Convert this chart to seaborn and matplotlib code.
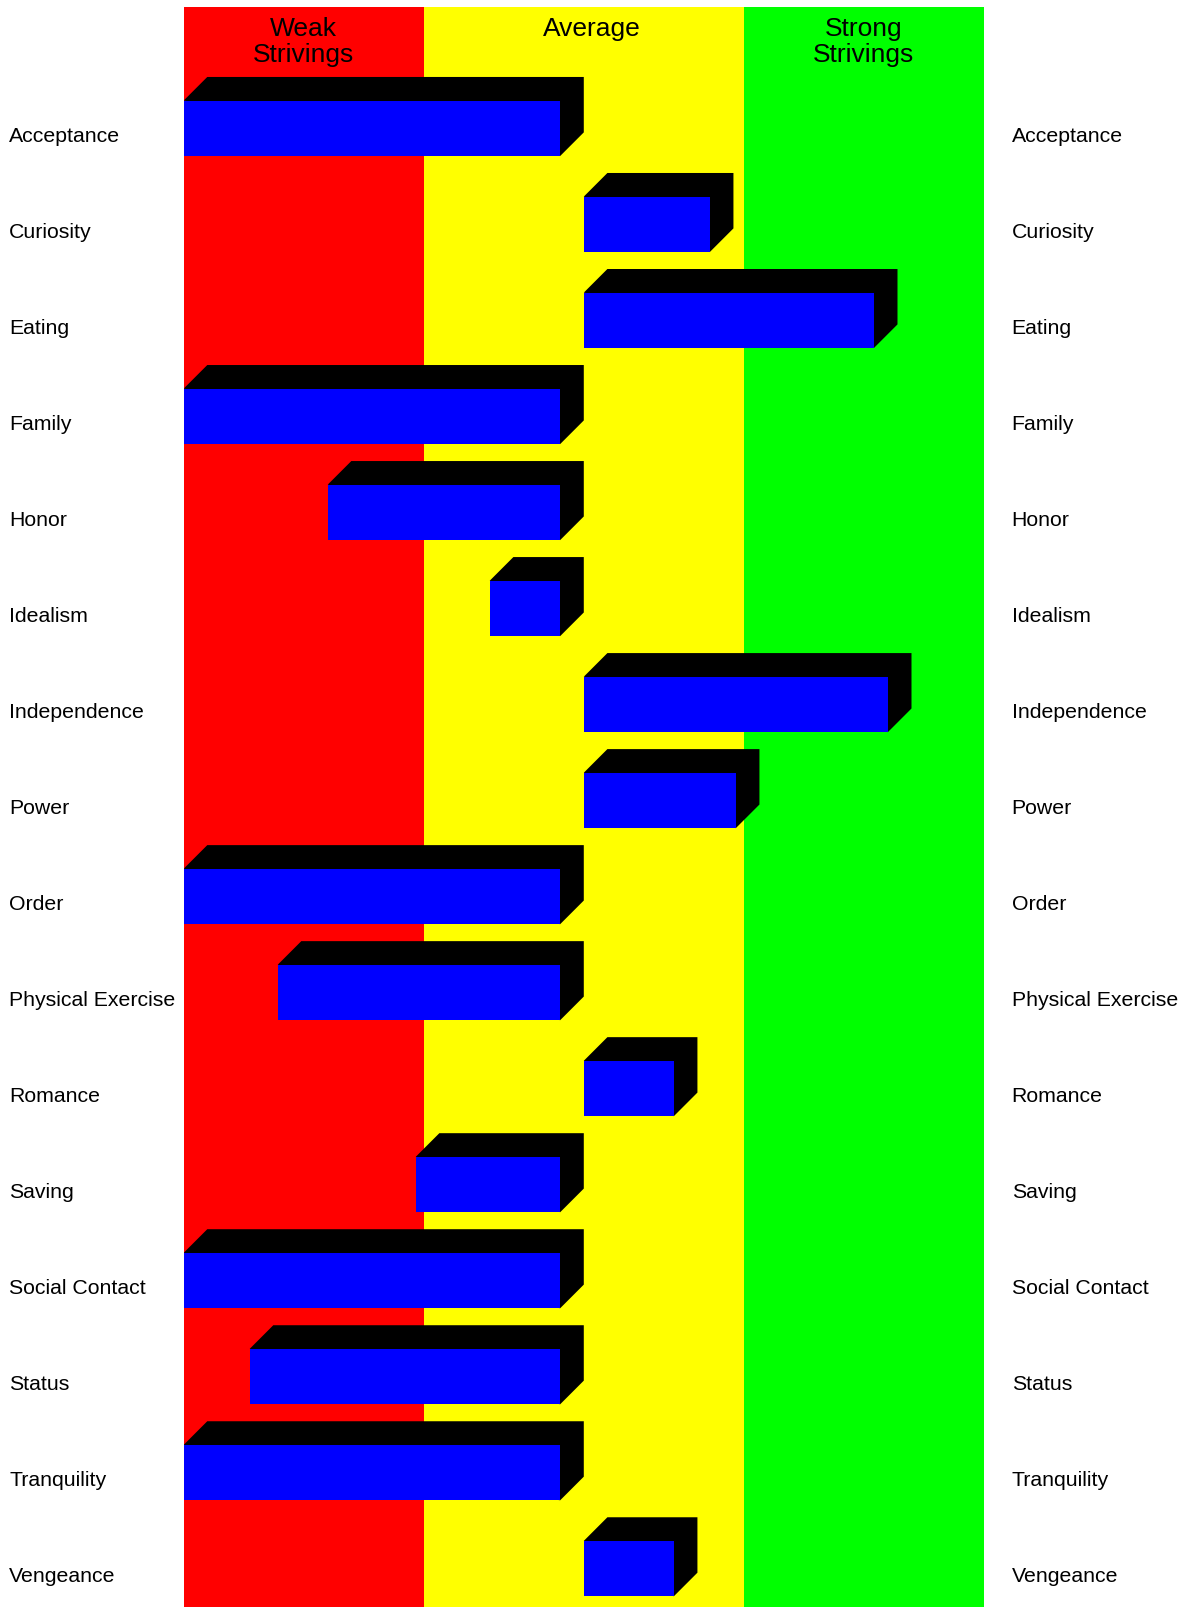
import numpy as np
import pandas as pd
import seaborn as sns
import matplotlib.pyplot as plt
from matplotlib.transforms import blended_transform_factory

motives = ["Acceptance", "Curiosity", "Eating", "Family", "Honor", "Idealism",
           "Independence", "Power", "Order", "Physical Exercise", "Romance",
           "Saving", "Social Contact", "Status", "Tranquility", "Vengeance"]
scores = [-2.0, 0.63, 1.45, -2.0, -1.28, -0.47, 1.52, 0.76,
          -2.0, -1.53, 0.45, -0.84, -2.0, -1.67, -2.0, 0.45]

zones = ["Weak\nStrivings", "Average", "Strong\nStrivings"]
zone_edges = [-2.0, -0.8, 0.8, 2.0]
zone_label_x = [-1.4, 0.04, 1.4]
zone_colors = ["#ff0000", "#ffff00", "#00ff00"]

depth_x = 0.118   # 3d extrusion, data units
depth_y = 0.246   # 3d extrusion, rows
bar_h = 0.577

df = pd.DataFrame({"motive": motives, "score": scores})
# front face: positive bars start at 0, negative bars stop at -depth
df["left"] = np.where(df.score < 0, df.score, 0.0)
df["right"] = np.where(df.score < 0, -depth_x, df.score)
df["length"] = df.right - df.left

sns.set_style("white")
plt.rcParams["font.family"] = ["Liberation Sans", "DejaVu Sans"]
plt.rcParams["text.color"] = "black"

fig = plt.figure(figsize=(11.88, 16.08), dpi=100)
ax = fig.add_axes([0.1546, 0, 0.6753, 0.9949])

for lo, hi, c in zip(zone_edges[:-1], zone_edges[1:], zone_colors):
    ax.axvspan(lo, hi, color=c, lw=0, zorder=0)

# black extrusion behind each bar
for i, row in df.iterrows():
    top = i - bar_h / 2
    bot = i + bar_h / 2
    xs = [row.left, row.left + depth_x, row.right + depth_x, row.right + depth_x, row.right]
    ys = [top, top - depth_y, top - depth_y, bot - depth_y, bot]
    ax.fill(xs, ys, color="black", lw=0, zorder=2)

sns.barplot(data=df, x="length", y="motive", orient="h", left=df["left"].values,
            width=bar_h, color="#0000ff", saturation=1, linewidth=0, ax=ax, zorder=3)

ax.set_xlim(-2.0, 2.01)
ax.set_ylim(15.40, -1.261)
ax.set_axis_off()

trans = blended_transform_factory(fig.transFigure, ax.transData)
for i, m in enumerate(motives):
    ax.text(0.0078, i + 0.13, m, transform=trans, ha="left", va="baseline", fontsize=15.3)
    ax.text(0.8515, i + 0.13, m, transform=trans, ha="left", va="baseline", fontsize=15.3)

# header: first baseline at -0.972 rows, 26 px (0.271 rows) per line
for x, z in zip(zone_label_x, zones):
    n = z.count("\n")
    ax.text(x, -0.972 + n * 0.271, z, ha="center", va="baseline",
            fontsize=19, linespacing=1.12, zorder=4)

fig.savefig("out.png", dpi=100)
